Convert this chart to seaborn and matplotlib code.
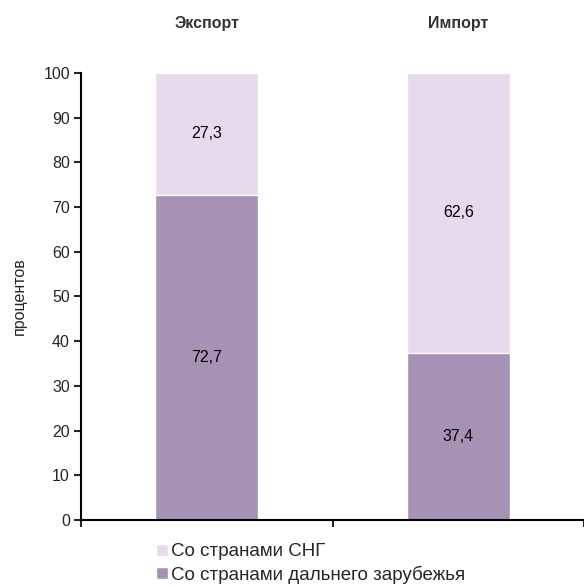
import numpy as np
import pandas as pd
import seaborn as sns
import matplotlib.pyplot as plt

# data
categories = ["Экспорт", "Импорт"]
far_abroad = [72.7, 37.4]   # Со странами дальнего зарубежья
cis = [27.3, 62.6]          # Со странами СНГ
value_labels_far = ["72,7", "37,4"]
value_labels_cis = ["27,3", "62,6"]

dark = "#a592b5"
light = "#e6daec"
fs = 11.5

sns.set_style("white")
plt.rcParams["font.family"] = ["Liberation Sans", "DejaVu Sans"]

df = pd.DataFrame({"cat": categories, "far": far_abroad, "cis": cis})
df["total"] = df["far"] + df["cis"]

fig = plt.figure(figsize=(5.84, 5.87), dpi=100)
ax = fig.add_axes([0.1387, 0.1141, 0.8613, 0.7617])

# stacked bars: total first (light), then bottom segment (dark)
sns.barplot(data=df, x="cat", y="total", color=light, saturation=1,
            width=0.41, ax=ax, label="Со странами СНГ")
sns.barplot(data=df, x="cat", y="far", color=dark, saturation=1,
            width=0.41, ax=ax, label="Со странами дальнего зарубежья")

for i, row in df.iterrows():
    ax.text(i, row["far"] / 2, value_labels_far[i], ha="center", va="center",
            fontsize=fs, color="black")
    ax.text(i, row["far"] + row["cis"] / 2, value_labels_cis[i], ha="center",
            va="center", fontsize=fs, color="black")
    ax.text(i, 1.11, row["cat"], transform=ax.get_xaxis_transform(),
            ha="center", va="center", fontsize=fs, fontweight="bold",
            color="#333333")

ax.set_xlim(-0.5, 1.5)
ax.set_ylim(0, 100)
ax.set_yticks(np.arange(0, 101, 10))
ax.set_xticks([-0.5, 0.5, 1.5])
ax.set_xticklabels([])
ax.set_xlabel("")
ax.set_ylabel("процентов", fontsize=fs, labelpad=12)

for s in ["top", "right"]:
    ax.spines[s].set_visible(False)
for s in ["left", "bottom"]:
    ax.spines[s].set_color("black")
    ax.spines[s].set_linewidth(1.5)
ax.tick_params(axis="y", direction="out", length=5, width=1.5,
               labelsize=fs, left=True, pad=3)
ax.tick_params(axis="x", direction="out", length=5, width=1.5, bottom=True)
ax.spines["bottom"].set_clip_on(False)

handles, labels = ax.get_legend_handles_labels()
if ax.legend_:
    ax.legend_.remove()
fig.legend(handles, labels, loc="upper left", bbox_to_anchor=(0.255, 0.087),
           frameon=False, fontsize=13.5, handlelength=0.6, handleheight=0.6,
           handletextpad=0.2, labelspacing=0.28, borderaxespad=0)

fig.savefig("out.png", dpi=100)
